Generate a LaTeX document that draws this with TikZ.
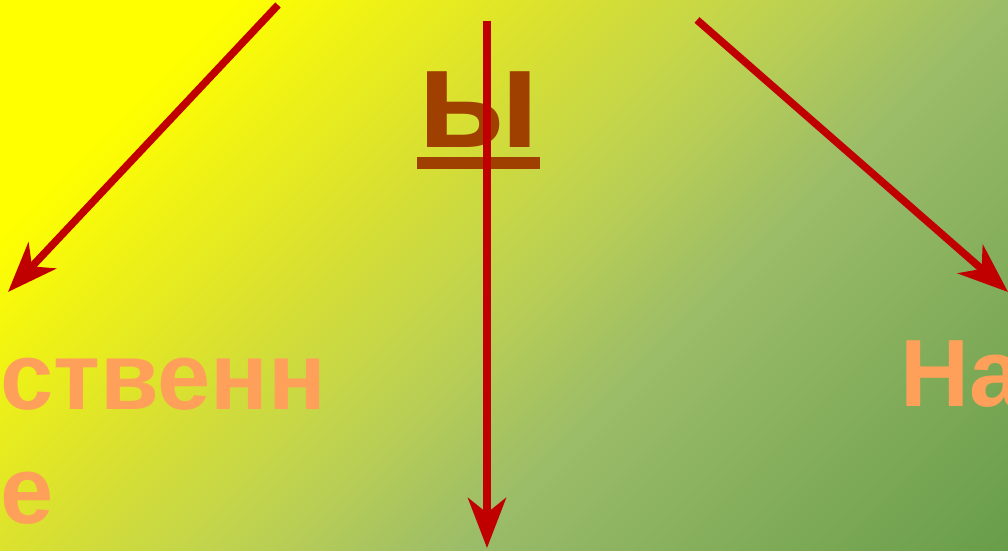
\documentclass[tikz,border=0pt]{standalone}
\usepackage{fontspec}
\setmainfont{Liberation Sans}
\usetikzlibrary{arrows.meta,positioning}
\definecolor{arrred}{RGB}{192,0,0}
\definecolor{wordorange}{RGB}{255,160,90}
\definecolor{titlebrown}{RGB}{160,64,0}
\definecolor{bgyellow}{RGB}{255,255,0}
\definecolor{bgmidA}{RGB}{220,226,45}
\definecolor{bgmidB}{RGB}{190,210,80}
\definecolor{bgmidC}{RGB}{155,188,105}
\definecolor{bggreen}{RGB}{104,157,74}
\pgfdeclarehorizontalshading{bgdiag}{100bp}{color(0bp)=(bgyellow); color(32.5bp)=(bgyellow); color(42.5bp)=(bgmidA); color(50bp)=(bgmidB); color(57.5bp)=(bgmidC); color(75bp)=(bggreen); color(100bp)=(bggreen)}

\begin{document}
\begin{tikzpicture}[x=1bp,y=1bp,
  arr/.style={arrred,line width=7.5bp,-{Stealth[length=50bp,width=38bp,inset=15bp]}},
  word/.style={wordorange,inner sep=0pt,anchor=base west,font=\fontsize{96}{114}\selectfont\bfseries}]
\begin{scope}
\clip (0,0) rectangle (1008,551);
\begin{scope}[transform canvas={rotate around={-45:(0,551)}}]
\shade[shading=bgdiag] (0,156) rectangle (1103,1266);
\end{scope}
% title letter with its bar
\node[titlebrown,inner sep=0pt,anchor=base,font=\fontsize{144}{160}\selectfont\bfseries] (ttl) at (478.5,403) {ы};
\draw[titlebrown,line width=12bp] ([yshift=-15bp]ttl.base west)--([yshift=-15bp]ttl.base east);
% words
\node[word] (lft1) at (0,141) {ственн};
\node[word] (lft2) at ([yshift=-114bp]lft1.base west) {е};
\node[word] (rgt) at (900,144) {На};
% arrows
\coordinate (s1) at (278,546); \coordinate (e1) at (8,259);
\coordinate (s2) at (487,530); \coordinate (e2) at (487,3);
\coordinate (s3) at (697,531); \coordinate (e3) at (1008,259);
\draw[arr] (s1)--(e1);
\draw[arr] (s2)--(e2);
\draw[arr] (s3)--(e3);
\end{scope}
\pgfresetboundingbox
\useasboundingbox (0,0) rectangle (1008,551);
\end{tikzpicture}
\end{document}
